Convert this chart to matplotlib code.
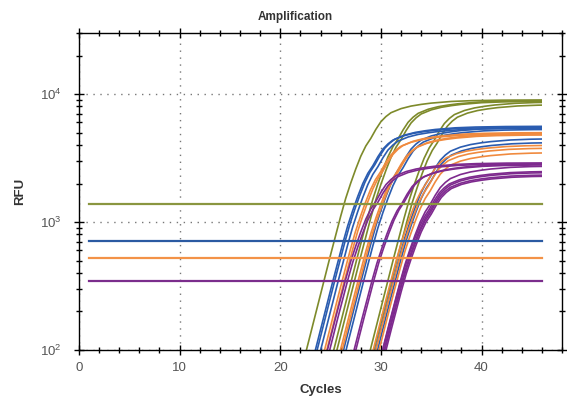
import numpy as np
import matplotlib.pyplot as plt
from matplotlib.patches import Rectangle
from matplotlib.ticker import LogLocator, MultipleLocator, NullFormatter

plt.rcParams['font.family'] = ['Liberation Sans', 'DejaVu Sans']

# shape of one amplification curve:
# cycle offset from the half-plateau point -> log10(RFU / plateau)
shape_offset = [-8, -7, -6, -5, -4, -3, -2.5, -2, -1.5, -1, -0.5, 0, 0.5, 1, 1.5,
                2, 3, 4, 5, 6, 8, 10, 13, 18]
shape_rel = [-2.45, -2.14, -1.83, -1.52, -1.21, -0.91, -0.77, -0.65, -0.54, -0.44,
             -0.36, -0.30, -0.23, -0.17, -0.13, -0.10, -0.068, -0.048, -0.035,
             -0.025, -0.012, -0.006, -0.002, 0.0]

# per well: cycle at half plateau, plateau RFU
olive_mid = [29.0, 31.7, 32.0, 35.3, 35.6]
olive_plateau = [9000, 8900, 8800, 8700, 8300]
blue_mid = [29.2, 29.4, 29.7, 32.0, 32.2, 34.9, 35.0]
blue_plateau = [5500, 5600, 5400, 5500, 5300, 4500, 4200]
orange_mid = [29.95, 30.2, 31.5, 31.7, 34.5, 34.7, 34.9]
orange_plateau = [4900, 5000, 4800, 4900, 4000, 3800, 3500]
purple_mid = [29.5, 29.7, 32.1, 32.3, 34.9, 34.8, 34.9, 34.9, 35.0]
purple_plateau = [2900, 2850, 2800, 2850, 2750, 2500, 2450, 2350, 2300]

# thresholds
thresholds = [1390, 712, 524, 348]
threshold_start, last_cycle = 1, 46

colors = {'olive': '#7d8a2a', 'blue': '#2a5cb0', 'orange': '#f08a3e', 'purple': '#7e2a8e'}
thr_colors = ['#8a9640', '#2b5aa2', '#f39247', '#7b2d8c']

fig = plt.figure(figsize=(5.67, 3.99), dpi=100)
ax = fig.add_axes([0.1393, 0.1228, 0.852, 0.7945])
ax.set_yscale('log')
ax.set_xlim(0, 48)
ax.set_ylim(100, 30000)

# clip curves to the plotted cycle range inside the axes
clip = Rectangle((threshold_start, 100), last_cycle - threshold_start, 29900,
                 transform=ax.transData)

groups = [('olive', olive_mid, olive_plateau), ('blue', blue_mid, blue_plateau),
          ('orange', orange_mid, orange_plateau), ('purple', purple_mid, purple_plateau)]
off = np.array(shape_offset)
rel = np.array(shape_rel)
for name, mids, plats in groups:
    for m, p in zip(mids, plats):
        line, = ax.plot(m + off, p * 10 ** rel, color=colors[name], lw=1.2)
        line.set_clip_path(clip)

for t, c in zip(thresholds, thr_colors):
    ax.plot([threshold_start, last_cycle], [t, t], color=c, lw=1.6)

ax.xaxis.set_major_locator(MultipleLocator(10))
ax.xaxis.set_minor_locator(MultipleLocator(2))
ax.yaxis.set_major_locator(LogLocator(base=10))
ax.yaxis.set_minor_locator(LogLocator(base=10, subs=np.arange(2, 10)))
ax.yaxis.set_minor_formatter(NullFormatter())
ax.tick_params(which='both', direction='inout', top=True, right=True,
               labelsize=9.5, labelcolor='#555555')
ax.tick_params(which='major', length=7, width=1)
ax.tick_params(which='minor', length=5, width=1)
ax.tick_params(axis='y', which='major', pad=9)
ax.tick_params(axis='x', which='major', pad=5)
ax.grid(True, which='major', color='#777777', linestyle=(0, (1, 4)), lw=1)
for s in ax.spines.values():
    s.set_linewidth(1)

ax.set_title('Amplification', fontsize=8.5, fontweight='bold', color='#333333',
             x=0.448, pad=9)
ax.set_xlabel('Cycles', fontsize=9.5, fontweight='bold', color='#333333', labelpad=7)
ax.set_ylabel('RFU', fontsize=9.5, fontweight='bold', color='#333333', labelpad=10)

fig.savefig('out.png', dpi=100)
